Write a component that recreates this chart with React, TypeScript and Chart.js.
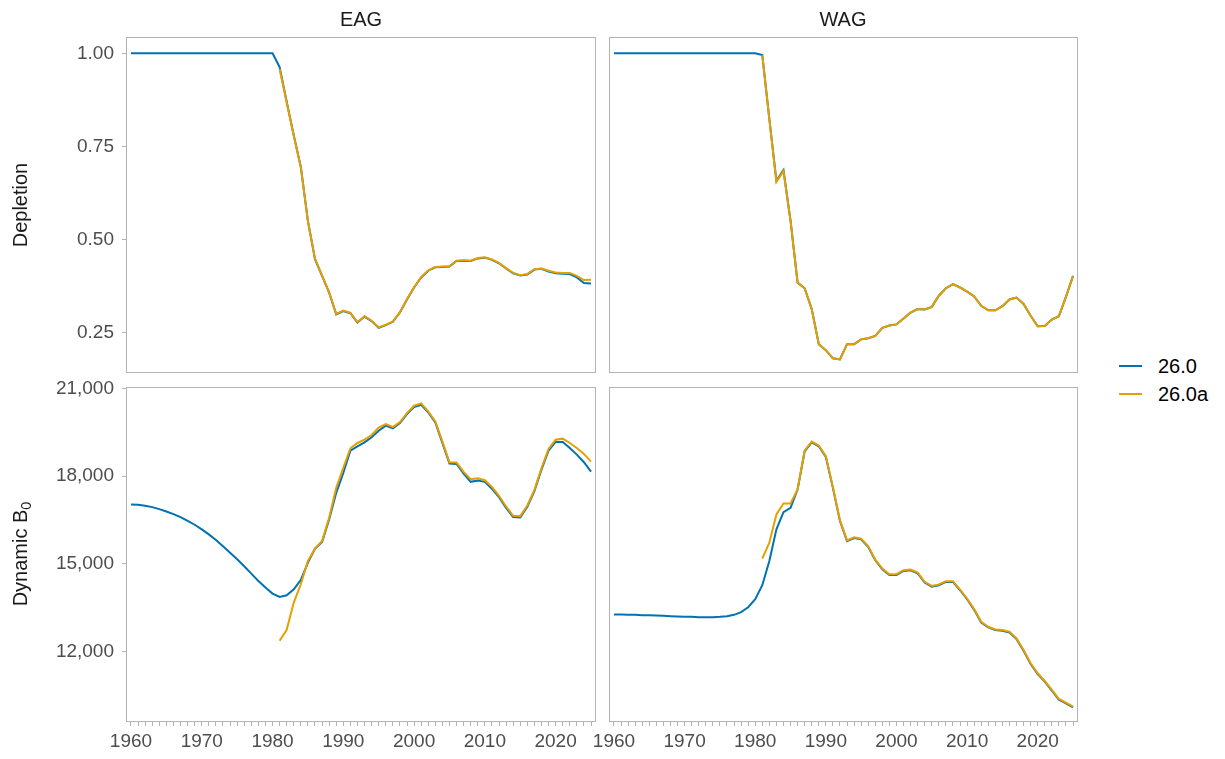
import React, { useEffect, useRef } from "react";
import { Chart, registerables } from "chart.js";

Chart.register(...registerables);

// ---------- data ----------
const years = [
  1960, 1961, 1962, 1963, 1964, 1965, 1966, 1967, 1968, 1969,
  1970, 1971, 1972, 1973, 1974, 1975, 1976, 1977, 1978, 1979,
  1980, 1981, 1982, 1983, 1984, 1985, 1986, 1987, 1988, 1989,
  1990, 1991, 1992, 1993, 1994, 1995, 1996, 1997, 1998, 1999,
  2000, 2001, 2002, 2003, 2004, 2005, 2006, 2007, 2008, 2009,
  2010, 2011, 2012, 2013, 2014, 2015, 2016, 2017, 2018, 2019,
  2020, 2021, 2022, 2023, 2024, 2025,
];

const seriesNames = ["26.0", "26.0a"];
const panelNames = ["EAG", "WAG"];

const depletionTicks = [0.25, 0.5, 0.75, 1.0];
const b0Ticks = [12000, 15000, 18000, 21000];
const xLabelYears = [1960, 1970, 1980, 1990, 2000, 2010, 2020];

const eagDepletion260 = [
  1, 1, 1, 1, 1, 1, 1, 1, 1, 1,
  1, 1, 1, 1, 1, 1, 1, 1, 1, 1,
  1, 0.963, 0.87, 0.78, 0.695, 0.55, 0.448, 0.403, 0.358, 0.3,
  0.309, 0.303, 0.278, 0.294, 0.282, 0.264, 0.271, 0.28, 0.305, 0.34,
  0.372, 0.399, 0.417, 0.426, 0.427, 0.428, 0.443, 0.444, 0.443, 0.45,
  0.452, 0.446, 0.437, 0.423, 0.41, 0.404, 0.407, 0.42, 0.422, 0.415,
  0.41, 0.409, 0.408, 0.399, 0.384, 0.383,
];
const eagDepletion260a = [
  null, null, null, null, null, null, null, null, null, null,
  null, null, null, null, null, null, null, null, null, null,
  null, 0.958, 0.868, 0.779, 0.694, 0.55, 0.449, 0.404, 0.359, 0.301,
  0.31, 0.304, 0.279, 0.295, 0.283, 0.265, 0.272, 0.281, 0.306, 0.341,
  0.373, 0.4, 0.418, 0.427, 0.428, 0.429, 0.444, 0.445, 0.444, 0.451,
  0.453, 0.447, 0.438, 0.424, 0.411, 0.405, 0.408, 0.421, 0.423, 0.417,
  0.412, 0.411, 0.411, 0.403, 0.392, 0.393,
];

const wagDepletion260 = [
  1, 1, 1, 1, 1, 1, 1, 1, 1, 1,
  1, 1, 1, 1, 1, 1, 1, 1, 1, 1,
  1, 0.995, 0.824, 0.658, 0.687, 0.551, 0.385, 0.37, 0.314, 0.22,
  0.204, 0.182, 0.179, 0.22, 0.22, 0.233, 0.236, 0.242, 0.264, 0.27,
  0.273, 0.289, 0.305, 0.314, 0.313, 0.32, 0.35, 0.37, 0.381, 0.372,
  0.361, 0.348, 0.323, 0.311, 0.311, 0.322, 0.34, 0.345, 0.328, 0.296,
  0.268, 0.269, 0.286, 0.295, 0.347, 0.403,
];
const wagDepletion260a = [
  null, null, null, null, null, null, null, null, null, null,
  null, null, null, null, null, null, null, null, null, null,
  null, 0.995, 0.823, 0.655, 0.684, 0.551, 0.385, 0.37, 0.314, 0.22,
  0.204, 0.182, 0.179, 0.22, 0.22, 0.233, 0.236, 0.242, 0.264, 0.27,
  0.273, 0.289, 0.305, 0.314, 0.313, 0.32, 0.35, 0.37, 0.381, 0.372,
  0.361, 0.348, 0.323, 0.311, 0.311, 0.322, 0.34, 0.345, 0.328, 0.296,
  0.268, 0.269, 0.286, 0.295, 0.347, 0.402,
];

const eagB0260 = [
  17034, 17023, 16989, 16943, 16875, 16795, 16705, 16602, 16477, 16341,
  16182, 16011, 15818, 15602, 15386, 15159, 14920, 14670, 14420, 14193,
  13989, 13875, 13932, 14136, 14455, 15045, 15523, 15750, 16523, 17432,
  18114, 18875, 19023, 19159, 19330, 19557, 19727, 19636, 19818, 20125,
  20364, 20443, 20182, 19841, 19136, 18432, 18420, 18091, 17807, 17852,
  17807, 17568, 17284, 16920, 16602, 16591, 16955, 17489, 18227, 18875,
  19170, 19170, 18966, 18739, 18477, 18159,
];
const eagB0260a = [
  null, null, null, null, null, null, null, null, null, null,
  null, null, null, null, null, null, null, null, null, null,
  null, 12375, 12750, 13682, 14307, 15102, 15523, 15784, 16580, 17602,
  18284, 18955, 19136, 19250, 19409, 19659, 19784, 19682, 19852, 20159,
  20409, 20489, 20216, 19875, 19193, 18477, 18466, 18148, 17898, 17932,
  17864, 17636, 17330, 16966, 16648, 16636, 17000, 17534, 18273, 18932,
  19250, 19284, 19136, 18966, 18761, 18500,
];

const wagB0260 = [
  13273, 13273, 13261, 13261, 13250, 13250, 13239, 13227, 13216, 13205,
  13193, 13193, 13182, 13182, 13182, 13193, 13216, 13261, 13352, 13520,
  13795, 14273, 15102, 16182, 16773, 16920, 17545, 18852, 19159, 19023,
  18659, 17602, 16466, 15784, 15886, 15841, 15580, 15125, 14818, 14625,
  14625, 14761, 14784, 14682, 14364, 14227, 14273, 14386, 14386, 14102,
  13795, 13432, 13000, 12830, 12739, 12716, 12659, 12432, 12034, 11580,
  11239, 10977, 10670, 10364, 10239, 10102,
];
const wagB0260a = [
  null, null, null, null, null, null, null, null, null, null,
  null, null, null, null, null, null, null, null, null, null,
  null, 15182, 15727, 16693, 17068, 17068, 17545, 18877, 19184, 19048,
  18684, 17627, 16491, 15809, 15911, 15866, 15605, 15150, 14843, 14650,
  14650, 14786, 14809, 14707, 14389, 14252, 14298, 14411, 14411, 14127,
  13820, 13457, 13025, 12855, 12764, 12741, 12684, 12457, 12059, 11605,
  11264, 11002, 10695, 10389, 10264, 10127,
];

// ---------- styling ----------
const BLUE = "#0072B2";
const ORANGE = "#E69F00";
const GREY_LINE = "#B3B3B3";
const TICK_TEXT = "#4D4D4D";
const TITLE_TEXT = "#1A1A1A";
const FONT = "'Liberation Sans', Arial, Helvetica, sans-serif";

const X_MIN = 1959.435;
const X_MAX = 2025.565;

type PanelSpec = {
  id: string;
  cx: number;
  cy: number;
  cw: number;
  ch: number;
  pad: { left: number; right: number; top: number; bottom: number };
  showY: boolean;
  showX: boolean;
  yMin: number;
  yMax: number;
  yTicks: number[];
  yFmt: (v: number) => string;
  blue: (number | null)[];
  orange: (number | null)[];
};

const fmtDepl = (v: number) => v.toFixed(2);
const fmtB0 = (v: number) => v.toLocaleString("en-US");

const DEP_MIN = 0.1454;
const DEP_MAX = 1.041;
const B0_MIN = 9633;
const B0_MAX = 21015;

const panels: PanelSpec[] = [
  {
    id: "eag-dep", cx: 30, cy: 28, cw: 575, ch: 355,
    pad: { left: 0, right: 10, top: 10, bottom: 11 },
    showY: true, showX: false, yMin: DEP_MIN, yMax: DEP_MAX,
    yTicks: depletionTicks, yFmt: fmtDepl,
    blue: eagDepletion260, orange: eagDepletion260a,
  },
  {
    id: "wag-dep", cx: 590, cy: 28, cw: 500, ch: 355,
    pad: { left: 20, right: 13, top: 10, bottom: 11 },
    showY: false, showX: false, yMin: DEP_MIN, yMax: DEP_MAX,
    yTicks: depletionTicks, yFmt: fmtDepl,
    blue: wagDepletion260, orange: wagDepletion260a,
  },
  {
    id: "eag-b0", cx: 30, cy: 378, cw: 575, ch: 381,
    pad: { left: 0, right: 10, top: 10, bottom: 0 },
    showY: true, showX: true, yMin: B0_MIN, yMax: B0_MAX,
    yTicks: b0Ticks, yFmt: fmtB0,
    blue: eagB0260, orange: eagB0260a,
  },
  {
    id: "wag-b0", cx: 590, cy: 378, cw: 500, ch: 381,
    pad: { left: 20, right: 13, top: 10, bottom: 0 },
    showY: false, showX: true, yMin: B0_MIN, yMax: B0_MAX,
    yTicks: b0Ticks, yFmt: fmtB0,
    blue: wagB0260, orange: wagB0260a,
  },
];

const Y_AXIS_WIDTH = 97;
const X_AXIS_HEIGHT = 38;

const borderPlugin = {
  id: "panelBorder",
  afterDatasetsDraw(chart: any) {
    const { ctx, chartArea } = chart;
    const { left, top, right, bottom } = chartArea;
    ctx.save();
    ctx.strokeStyle = GREY_LINE;
    ctx.lineWidth = 1;
    ctx.strokeRect(left - 0.5, top - 0.5, right - left + 1, bottom - top + 1);
    ctx.restore();
  },
};

const toXY = (arr: (number | null)[]) => years.map((yr, i) => ({ x: yr, y: arr[i] }));

function Panel({ spec }: { spec: PanelSpec }) {
  const ref = useRef<HTMLCanvasElement>(null);
  useEffect(() => {
    if (!ref.current) return;
    const chart = new Chart(ref.current, {
      type: "line",
      data: {
        datasets: [
          {
            label: seriesNames[0],
            data: toXY(spec.blue) as any,
            borderColor: BLUE,
            backgroundColor: BLUE,
            borderWidth: 2,
            pointRadius: 0,
            tension: 0,
            spanGaps: false,
            order: 2,
          },
          {
            label: seriesNames[1],
            data: toXY(spec.orange) as any,
            borderColor: ORANGE,
            backgroundColor: ORANGE,
            borderWidth: 2,
            pointRadius: 0,
            tension: 0,
            spanGaps: false,
            order: 1,
          },
        ],
      },
      options: {
        animation: false,
        responsive: true,
        maintainAspectRatio: false,
        events: [],
        layout: { padding: spec.pad },
        plugins: {
          legend: { display: false },
          tooltip: { enabled: false },
          title: { display: false },
        },
        scales: {
          x: {
            type: "linear",
            min: X_MIN,
            max: X_MAX,
            display: spec.showX,
            afterBuildTicks: (s: any) => {
              s.ticks = years.map((v) => ({ value: v }));
            },
            afterFit: (s: any) => {
              if (spec.showX) s.height = X_AXIS_HEIGHT;
              s.paddingLeft = 0;
              s.paddingRight = 0;
              s.paddingTop = 0;
              s.paddingBottom = 0;
            },
            grid: {
              display: true,
              drawOnChartArea: false,
              drawTicks: true,
              tickLength: 5,
              color: GREY_LINE,
              lineWidth: 1,
            },
            border: { display: false },
            ticks: {
              autoSkip: false,
              maxRotation: 0,
              minRotation: 0,
              padding: 4,
              color: TICK_TEXT,
              font: { family: FONT, size: 19 },
              callback: (v: any) => (xLabelYears.includes(Number(v)) ? String(v) : ""),
            },
          },
          y: {
            type: "linear",
            min: spec.yMin,
            max: spec.yMax,
            display: spec.showY,
            afterBuildTicks: (s: any) => {
              s.ticks = spec.yTicks.map((v) => ({ value: v }));
            },
            afterFit: (s: any) => {
              if (spec.showY) s.width = Y_AXIS_WIDTH;
              s.paddingTop = 0;
              s.paddingBottom = 0;
              s.paddingLeft = 0;
              s.paddingRight = 0;
            },
            grid: {
              display: true,
              drawOnChartArea: false,
              drawTicks: true,
              tickLength: 5,
              color: GREY_LINE,
              lineWidth: 1,
            },
            border: { display: false },
            ticks: {
              autoSkip: false,
              padding: 8,
              color: TICK_TEXT,
              font: { family: FONT, size: 19 },
              callback: (v: any) => spec.yFmt(Number(v)),
            },
          },
        },
      },
      plugins: [borderPlugin],
    } as any);
    return () => chart.destroy();
  }, [spec]);
  return (
    <div
      style={{
        position: "absolute",
        left: spec.cx,
        top: spec.cy,
        width: spec.cw,
        height: spec.ch,
      }}
    >
      <canvas ref={ref} />
    </div>
  );
}

const textBase: React.CSSProperties = {
  position: "absolute",
  fontFamily: FONT,
  fontSize: 20,
  lineHeight: "20px",
  height: 20,
  color: TITLE_TEXT,
  whiteSpace: "nowrap",
  textAlign: "center",
};

export default function App() {
  return (
    <div
      style={{
        position: "fixed",
        left: 0,
        top: 0,
        width: 1225,
        height: 759,
        background: "#ffffff",
        overflow: "hidden",
        fontFamily: FONT,
      }}
    >
      {panels.map((p) => (
        <Panel key={p.id} spec={p} />
      ))}

      {/* strip labels */}
      <div style={{ ...textBase, left: 361 - 60, top: 9, width: 120 }}>{panelNames[0]}</div>
      <div style={{ ...textBase, left: 843 - 60, top: 9, width: 120 }}>{panelNames[1]}</div>

      {/* y-axis titles */}
      <div
        style={{
          ...textBase,
          left: 20 - 80,
          top: 205 - 10,
          width: 160,
          transform: "rotate(-90deg)",
          transformOrigin: "50% 50%",
        }}
      >
        Depletion
      </div>
      <div
        style={{
          ...textBase,
          left: 20 - 80,
          top: 554 - 10,
          width: 160,
          transform: "rotate(-90deg)",
          transformOrigin: "50% 50%",
        }}
      >
        Dynamic B
        <sub style={{ fontSize: "0.72em", lineHeight: 0, verticalAlign: "-0.3em" }}>0</sub>
      </div>

      {/* legend */}
      {[
        { name: seriesNames[0], color: BLUE, y: 366 },
        { name: seriesNames[1], color: ORANGE, y: 394 },
      ].map((e) => (
        <React.Fragment key={e.name}>
          <div
            style={{
              position: "absolute",
              left: 1119,
              top: e.y - 1,
              width: 23,
              height: 2,
              background: e.color,
            }}
          />
          <div
            style={{
              ...textBase,
              textAlign: "left",
              left: 1158,
              top: e.y - 10,
              width: 80,
              color: "#000000",
            }}
          >
            {e.name}
          </div>
        </React.Fragment>
      ))}
    </div>
  );
}
